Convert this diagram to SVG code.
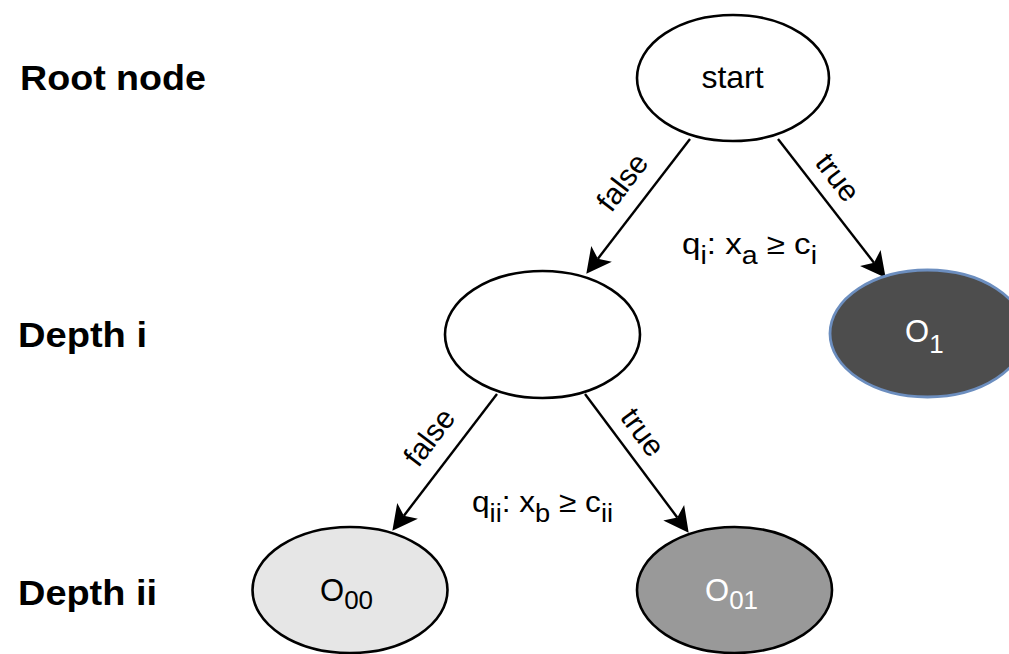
<svg xmlns="http://www.w3.org/2000/svg" width="1009" height="654" viewBox="0 0 1009 654">
<style>
text{font-family:"Liberation Sans",Arial,sans-serif;fill:#000}
.hdr{font-weight:bold;font-size:35px}
.lbl{font-size:29px}
.sub{font-size:25px}
.big{font-size:32px}
.ob{font-size:31px}
.os{font-size:26px}
.node{stroke:#000;stroke-width:2.6}
.edge{stroke:#000;stroke-width:2.4;fill:none;marker-end:url(#arr)}
.el{font-size:30px;text-anchor:middle;dominant-baseline:central}
text.w,tspan.w{fill:#fff}
</style>
<defs>
<marker id="arr" markerUnits="userSpaceOnUse" viewBox="0 0 27 27" markerWidth="27" markerHeight="27" refX="7" refY="13.5" orient="auto">
<path d="M1,0.5 L26,13.5 L1,26.5 L7,13.5 Z" fill="#000"/>
</marker>
</defs>
<rect width="1009" height="654" fill="#fff"/>
<g id="headers">
<text class="hdr" x="20" y="90" textLength="186" lengthAdjust="spacingAndGlyphs">Root node</text>
<text class="hdr" x="18" y="347" textLength="129" lengthAdjust="spacingAndGlyphs">Depth i</text>
<text class="hdr" x="18" y="605" textLength="139" lengthAdjust="spacingAndGlyphs">Depth ii</text>
</g>
<g id="connectors">
<line class="edge" x1="690" y1="139" x2="597.9" y2="258.7"/>
<line class="edge" x1="778" y1="139" x2="874" y2="262.7"/>
<line class="edge" x1="497" y1="394" x2="403.9" y2="515.7"/>
<line class="edge" x1="585" y1="394" x2="677.3" y2="517.5"/>
<text class="el" transform="translate(622,182) rotate(-52.7)">false</text>
<text class="el" transform="translate(838,177) rotate(52.4)">true</text>
<text class="el" transform="translate(429,437) rotate(-52.8)">false</text>
<text class="el" transform="translate(643,432) rotate(53.5)">true</text>
<text class="lbl" x="682" y="254" textLength="135" lengthAdjust="spacingAndGlyphs">q<tspan class="sub" dy="10">i</tspan><tspan dy="-10">: x</tspan><tspan class="sub" dy="10">a</tspan><tspan dy="-10"> ≥ c</tspan><tspan class="sub" dy="10">i</tspan></text>
<text class="lbl" x="472" y="512" textLength="141" lengthAdjust="spacingAndGlyphs">q<tspan class="sub" dy="10">ii</tspan><tspan dy="-10">: x</tspan><tspan class="sub" dy="10">b</tspan><tspan dy="-10"> ≥ c</tspan><tspan class="sub" dy="10">ii</tspan></text>
</g>
<g id="start">
<ellipse class="node" cx="733" cy="78" rx="96" ry="63" fill="#fff"/>
<text class="big" x="732.5" y="88" text-anchor="middle">start</text>
</g>
<g id="depth-i">
<ellipse class="node" cx="542.5" cy="334.5" rx="97.5" ry="63.5" fill="#fff"/>
</g>
<g id="O1">
<ellipse cx="927.5" cy="333.5" rx="97.5" ry="63.5" fill="#4d4d4d" stroke="#6c8ebf" stroke-width="2.8"/>
<text class="ob w" x="905" y="342">O<tspan class="os w" dy="11">1</tspan></text>
</g>
<g id="O00">
<ellipse class="node" cx="350" cy="590" rx="97.5" ry="63" fill="#e6e6e6"/>
<text class="ob" x="320" y="601">O<tspan class="os" dy="8">00</tspan></text>
</g>
<g id="O01">
<ellipse class="node" cx="734.5" cy="590" rx="97.5" ry="63" fill="#999999"/>
<text class="ob w" x="705" y="601">O<tspan class="os w" dy="8">01</tspan></text>
</g>
</svg>
